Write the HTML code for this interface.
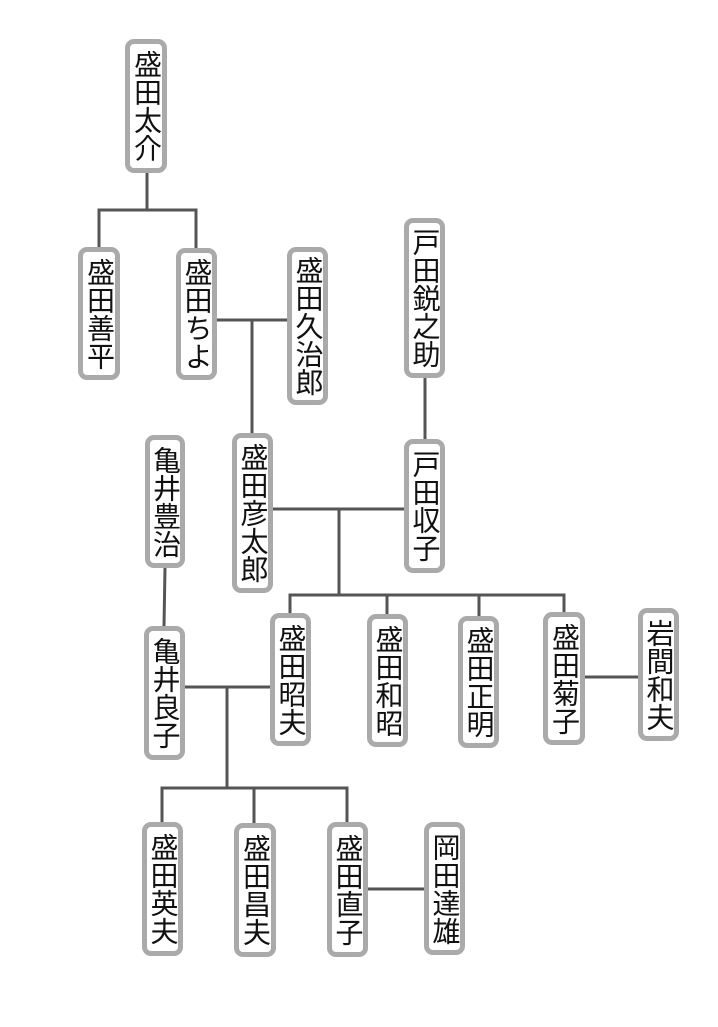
<!DOCTYPE html>
<html><head><meta charset="utf-8"><style>
body{margin:0;width:718px;height:1027px;background:#fff;position:relative;overflow:hidden}
.b{position:absolute;box-sizing:border-box;border:5px solid #aaa;border-radius:9px;background:#fff;display:flex;align-items:center;justify-content:center;font-family:"Liberation Sans","Noto Sans CJK JP",sans-serif;font-size:28px;color:#111;writing-mode:vertical-rl;line-height:1;letter-spacing:0px}
svg{position:absolute;left:0;top:0}
</style></head><body>
<svg width="718" height="1027"><g stroke="#555" stroke-width="3" fill="none">
<path d="M147 173V210M99 247V210H196V248"/>
<path d="M217 320H287M252 320V433"/>
<path d="M425 378V439"/>
<path d="M273 509H404M339 509V595M290 613V595H564V612M387 595V614M479 595V616"/>
<path d="M585 677H638"/>
<path d="M165 568L164 626"/>
<path d="M185 687H270M227 687V788M162 822V788H347V822M254 788V823"/>
<path d="M368 889H424"/>
</g></svg>
<div class="b" style="left:125px;top:39px;width:42px;height:134px">盛田太介</div>
<div class="b" style="left:78px;top:247px;width:42px;height:133px">盛田善平</div>
<div class="b" style="left:176px;top:248px;width:41px;height:132px">盛田ちよ</div>
<div class="b" style="left:287px;top:247px;width:41px;height:158px">盛田久治郎</div>
<div class="b" style="left:404px;top:218px;width:41px;height:160px">戸田鋭之助</div>
<div class="b" style="left:145px;top:435px;width:40px;height:133px">亀井豊治</div>
<div class="b" style="left:232px;top:433px;width:41px;height:160px">盛田彦太郎</div>
<div class="b" style="left:404px;top:439px;width:41px;height:134px">戸田収子</div>
<div class="b" style="left:144px;top:626px;width:41px;height:134px">亀井良子</div>
<div class="b" style="left:270px;top:613px;width:41px;height:133px">盛田昭夫</div>
<div class="b" style="left:367px;top:614px;width:41px;height:133px">盛田和昭</div>
<div class="b" style="left:458px;top:616px;width:41px;height:132px">盛田正明</div>
<div class="b" style="left:543px;top:612px;width:42px;height:133px">盛田菊子</div>
<div class="b" style="left:638px;top:608px;width:41px;height:133px">岩間和夫</div>
<div class="b" style="left:142px;top:822px;width:41px;height:134px">盛田英夫</div>
<div class="b" style="left:234px;top:823px;width:42px;height:134px">盛田昌夫</div>
<div class="b" style="left:327px;top:822px;width:41px;height:135px">盛田直子</div>
<div class="b" style="left:424px;top:822px;width:41px;height:133px">岡田達雄</div>
</body></html>
